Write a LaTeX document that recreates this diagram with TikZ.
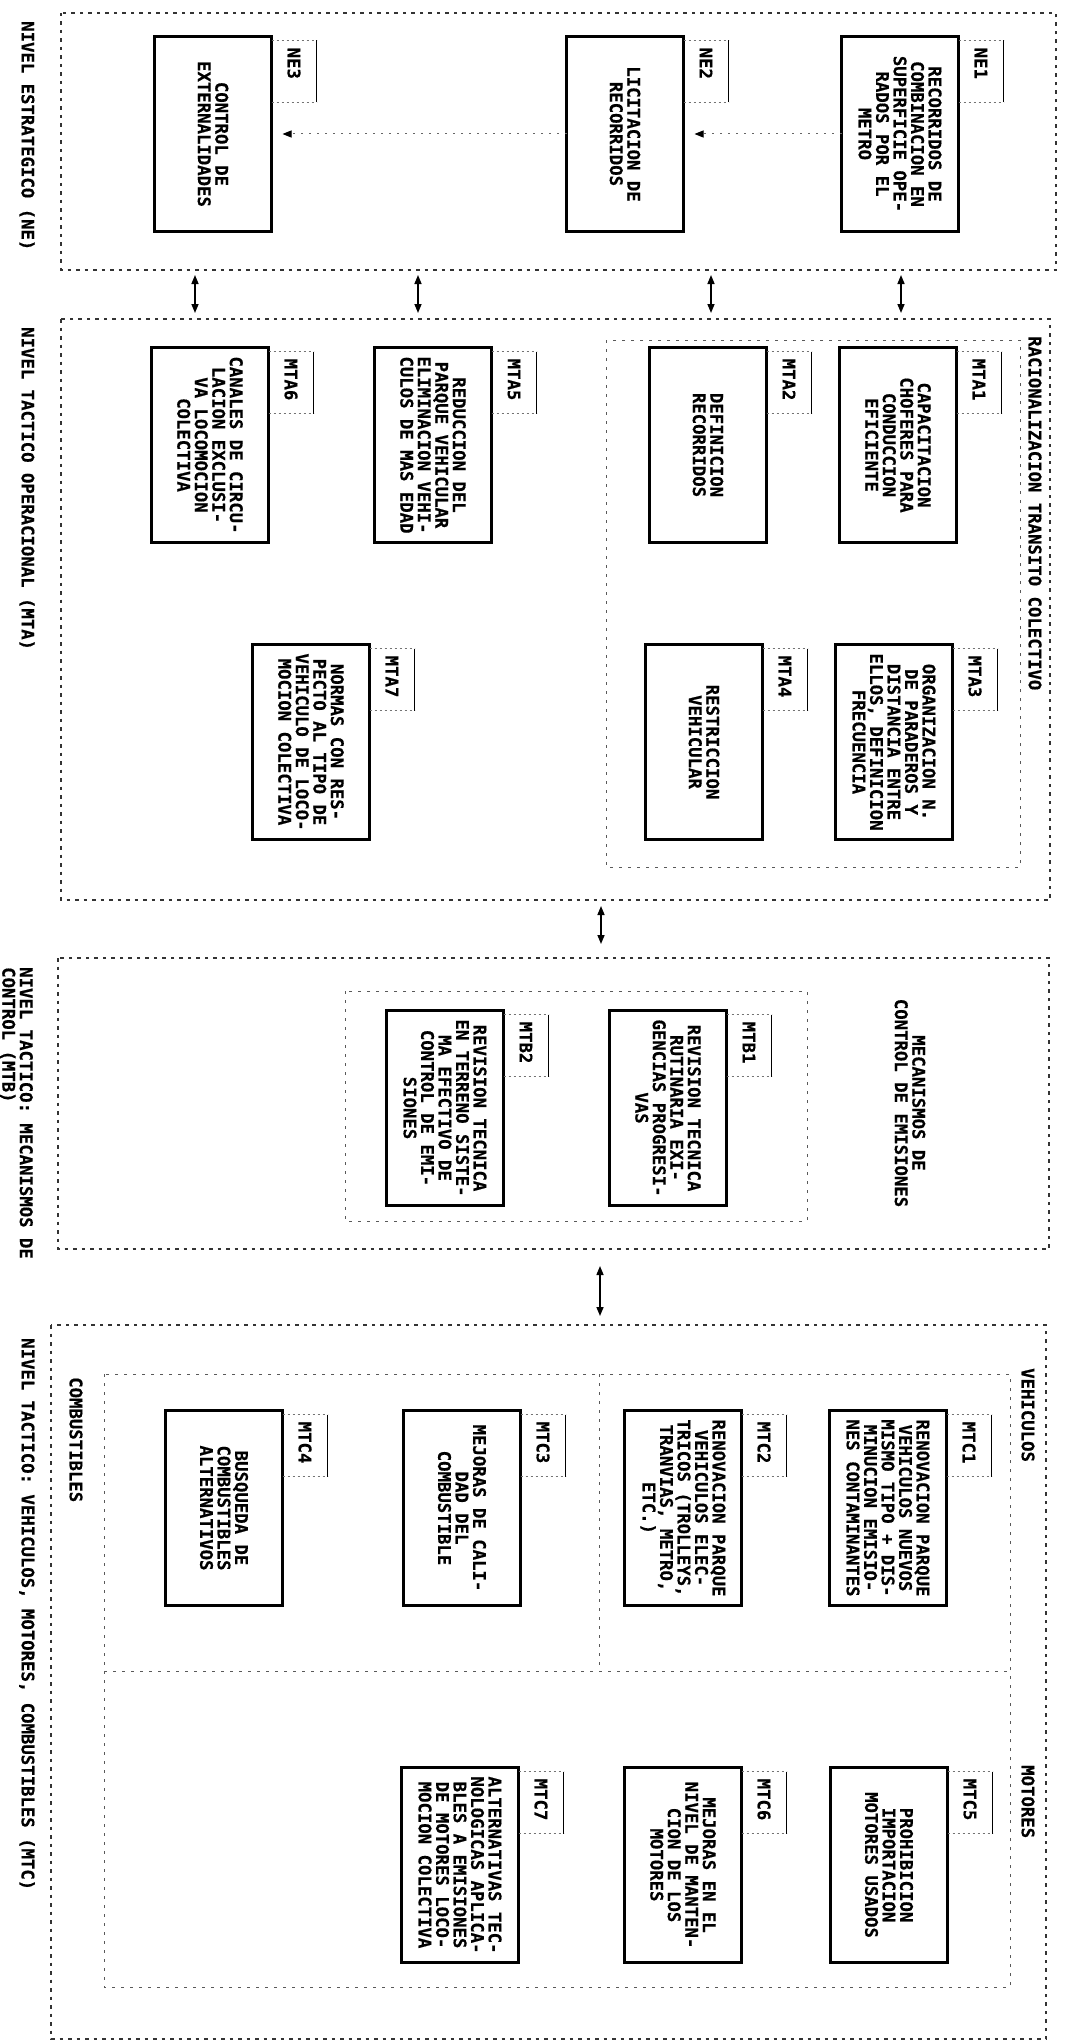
\documentclass[tikz,border=0pt]{standalone}
\usepackage{fontspec}
\setmainfont{DejaVu Sans Mono}[BoldFeatures={FakeBold=0.6}]
\usetikzlibrary{arrows.meta,calc}
\newcommand\bxfont{\bfseries\fontsize{17.3}{17.5}\selectfont}
\tikzset{
  mbox/.style={draw, line width=2.8pt, rotate=-90, minimum width=195pt, minimum height=117pt, inner sep=0pt, outer sep=0pt, align=center, font=\bxfont},
  tabsolid/.style={line width=1.4pt},
  tabdot/.style={line width=0.9pt, black!55, dash pattern=on 2pt off 3pt},
  tabtxt/.style={rotate=-90, anchor=west, inner sep=0pt, font=\bxfont},
  region/.style={line width=1.2pt, black!80, dash pattern=on 3.5pt off 5pt},
  subregion/.style={line width=1pt, black!65, dash pattern=on 3pt off 6pt},
  lbl/.style={rotate=-90, anchor=west, inner sep=0pt, font=\bxfont, align=left},
  dbl/.style={line width=1.5pt, {Triangle[length=9pt,width=7pt]}-{Triangle[length=9pt,width=7pt]}},
  dotarrow/.style={line width=1pt, black!60, dash pattern=on 2pt off 6pt, -{Triangle[length=9pt,width=7pt,color=black]}, shorten >=11pt}
}
\newcommand\measbox[5]{%
  \node[mbox] (#1) at (#2,#3) {#5};
  \draw[tabsolid] ($(#1.north west)+(45,4)$) -- ($(#1.north west)+(45,66)$);
  \draw[tabdot] ($(#1.north west)+(0,4)$) -- ($(#1.north west)+(45,4)$);
  \draw[tabdot] ($(#1.north west)+(0,66)$) -- ($(#1.north west)+(45,66)$);
  \node[tabtxt] (#1t) at ($(#1.north west)+(22.5,11)$) {#4};
}
\begin{document}
\begin{tikzpicture}[x=1pt,y=-1pt]
\fill[white] (0,0) rectangle (1072,2044);
\useasboundingbox (0,0) rectangle (1072,2044);

% regions
\draw[region] (61,13) rectangle (1056,270);
\draw[region] (61,319) rectangle (1050,900);
\draw[subregion] (606,340) rectangle (1020,867);
\draw[region] (58,958) rectangle (1049,1249);
\draw[subregion] (345,991) rectangle (807,1221);
\draw[region] (51,1325) rectangle (1046,2039);
\draw[subregion] (104,1374) rectangle (1010,1987);
\draw[subregion] (104,1671) -- (1010,1671);
\draw[subregion] (599,1374) -- (599,1671);

% level labels
\node[lbl] (lNE) at (27,21) {NIVEL ESTRATEGICO (NE)};
\node[lbl] (lMTA) at (27,327) {NIVEL TACTICO OPERACIONAL (MTA)};
\node[lbl, anchor=north west] (lMTB) at (33,967) {NIVEL TACTICO: MECANISMOS DE\\CONTROL (MTB)};
\node[lbl] (lMTC) at (27,1338) {NIVEL TACTICO: VEHICULOS, MOTORES, COMBUSTIBLES (MTC)};

% group titles
\node[lbl] (tRac) at (1035,336) {RACIONALIZACION TRANSITO COLECTIVO};
\node[lbl] (tVeh) at (1028,1368) {VEHICULOS};
\node[lbl] (tMot) at (1028,1765) {MOTORES};
\node[lbl] (tCom) at (76,1377) {COMBUSTIBLES};
\node[rotate=-90, align=center, font=\bxfont, inner sep=0pt] (tMec) at (910,1103) {MECANISMOS DE\\CONTROL DE EMISIONES};

% NE
\measbox{ne1}{900}{134}{NE1}{RECORRIDOS DE\\COMBINACION EN\\SUPERFICIE OPE-\\RADOS POR EL\\METRO}
\measbox{ne2}{625}{134}{NE2}{LICITACION DE\\RECORRIDOS}
\measbox{ne3}{213}{134}{NE3}{CONTROL DE\\EXTERNALIDADES}
\draw[dotarrow] (ne1.south) -- (ne2.north);
\draw[dotarrow] (ne2.south) -- (ne3.north);

% MTA
\measbox{mta1}{898}{445}{MTA1}{CAPACITACION\\CHOFERES PARA\\CONDUCCION\\EFICIENTE}
\measbox{mta2}{708}{445}{MTA2}{DEFINICION\\RECORRIDOS}
\measbox{mta5}{433}{445}{MTA5}{REDUCCION DEL\\PARQUE VEHICULAR\\ELIMINACION VEHI-\\CULOS DE MAS EDAD}
\measbox{mta6}{210}{445}{MTA6}{CANALES DE CIRCU-\\LACION EXCLUSI-\\VA LOCOMOCION\\COLECTIVA}
\measbox{mta3}{894}{742}{MTA3}{ORGANIZACION N.\\DE PARADEROS Y\\DISTANCIA ENTRE\\ELLOS, DEFINICION\\FRECUENCIA}
\measbox{mta4}{704}{742}{MTA4}{RESTRICCION\\VEHICULAR}
\measbox{mta7}{311}{742}{MTA7}{NORMAS CON RES-\\PECTO AL TIPO DE\\VEHICULO DE LOCO-\\MOCION COLECTIVA}

% MTB
\measbox{mtb1}{668}{1108}{MTB1}{REVISION TECNICA\\RUTINARIA EXI-\\GENCIAS PROGRESI-\\VAS}
\measbox{mtb2}{445}{1108}{MTB2}{REVISION TECNICA\\EN TERRENO SISTE-\\MA EFECTIVO DE\\CONTROL DE EMI-\\SIONES}

% MTC
\measbox{mtc1}{888}{1508}{MTC1}{RENOVACION PARQUE\\VEHICULOS NUEVOS\\MISMO TIPO + DIS-\\MINUCION EMISIO-\\NES CONTAMINANTES}
\measbox{mtc2}{683}{1508}{MTC2}{RENOVACION PARQUE\\VEHICULOS ELEC-\\TRICOS (TROLLEYS,\\TRANVIAS, METRO,\\ETC.)}
\measbox{mtc3}{462}{1508}{MTC3}{MEJORAS DE CALI-\\DAD DEL\\COMBUSTIBLE}
\measbox{mtc4}{224}{1508}{MTC4}{BUSQUEDA DE\\COMBUSTIBLES\\ALTERNATIVOS}
\measbox{mtc5}{889}{1865}{MTC5}{PROHIBICION\\IMPORTACION\\MOTORES USADOS}
\measbox{mtc6}{683}{1865}{MTC6}{MEJORAS EN EL\\NIVEL DE MANTEN-\\CION DE LOS\\MOTORES}
\measbox{mtc7}{460}{1865}{MTC7}{ALTERNATIVAS TEC-\\NOLOGICAS APLICA-\\BLES A EMISIONES\\DE MOTORES LOCO-\\MOCION COLECTIVA}

% level connectors
\coordinate (a1s) at (901,275); \coordinate (a1e) at (901,313);
\coordinate (a2s) at (711,275); \coordinate (a2e) at (711,313);
\coordinate (a3s) at (418,275); \coordinate (a3e) at (418,313);
\coordinate (a4s) at (195,275); \coordinate (a4e) at (195,313);
\coordinate (b1s) at (601,906); \coordinate (b1e) at (601,944);
\coordinate (c1s) at (600,1266); \coordinate (c1e) at (600,1316);
\draw[dbl] (a1s) -- (a1e);
\draw[dbl] (a2s) -- (a2e);
\draw[dbl] (a3s) -- (a3e);
\draw[dbl] (a4s) -- (a4e);
\draw[dbl] (b1s) -- (b1e);
\draw[dbl] (c1s) -- (c1e);
\end{tikzpicture}
\end{document}
